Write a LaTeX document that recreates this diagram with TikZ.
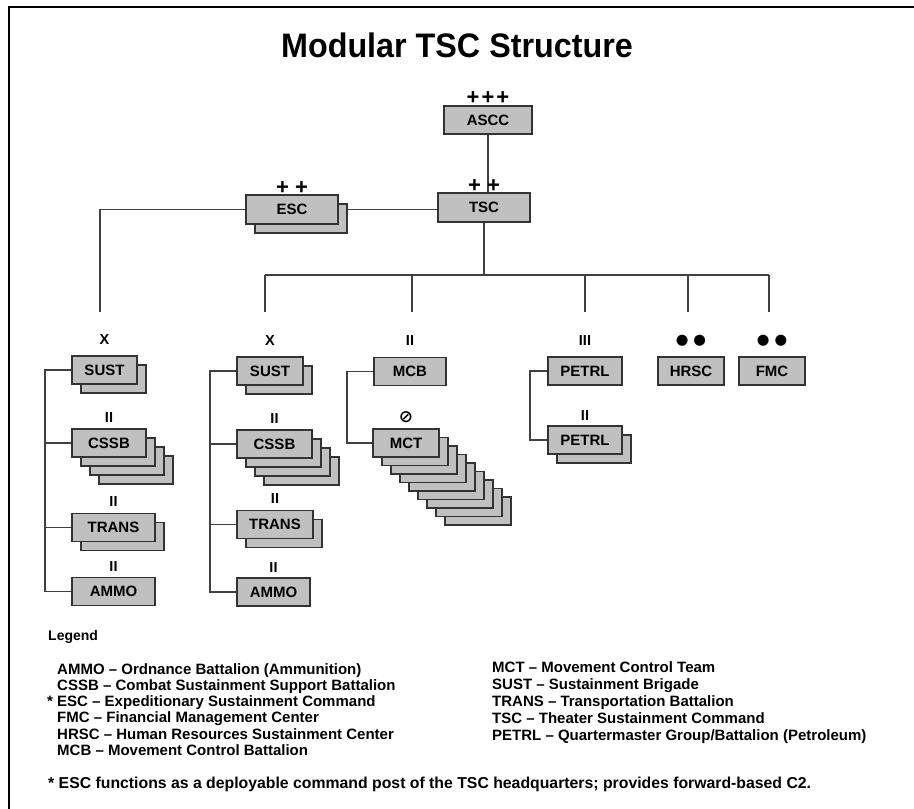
\documentclass[tikz,border=0pt]{standalone}
\usepackage{fontspec}
\setmainfont{Liberation Sans}
\newfontfamily\symfont{DejaVu Sans}
\usepackage{graphicx}
\usetikzlibrary{positioning,backgrounds}

\definecolor{boxgray}{RGB}{192,192,192}
\definecolor{linegray}{RGB}{64,64,64}

\tikzset{
  unit/.style={rectangle,draw=black!80,fill=boxgray,line width=1.6pt,
    minimum height=28pt,inner sep=0pt,font=\bfseries\fontsize{15}{15}\selectfont},
  echelon/.style={inner sep=0pt,font=\bfseries\fontsize{14.5}{14.5}\selectfont},
  pluses/.style={inner sep=0pt,font=\bfseries\fontsize{22}{22}\selectfont},
  link/.style={draw=linegray,line width=1.5pt},
  legend/.style={anchor=north west,align=left,inner sep=0pt,
    font=\bfseries\fontsize{15}{16.3}\selectfont}
}

\begin{document}
\begin{tikzpicture}[x=1pt,y=-1pt]
  \useasboundingbox (0,0) rectangle (914,809);
  \draw[line width=2.5pt] (9,809) -- (9,7) -- (914,7);

  \node[font=\bfseries\fontsize{34}{34}\selectfont] (title) at (457,45)
    {\scalebox{0.95}[1]{Modular TSC Structure}};

  % command level
  \node[unit,minimum width=88pt] (ascc) at (488,120) {ASCC};
  \node[pluses,above=1pt of ascc] (lvlascc) {+\kern2pt+\kern2pt+};
  \node[unit,minimum width=92pt,minimum height=29pt] (tsc) at (484,207.5) {TSC};
  \node[pluses,above=0pt of tsc] (lvltsc) {+ +};
  \node[unit,minimum width=92pt,minimum height=29pt] (escs) at (301,218.5) {};
  \node[unit,minimum width=92pt,minimum height=29pt] (esc) at (292,209.5) {ESC};
  \node[pluses,above=0pt of esc] (lvlesc) {+ +};

  \coordinate (bus) at (485,275);
  \coordinate (dropA) at (100,312);
  \coordinate (dropB) at (265,312);
  \coordinate (dropC) at (412,312);
  \coordinate (dropD) at (585,312);
  \coordinate (dropE) at (688,312);
  \coordinate (dropF) at (769,312);

  % first sustainment brigade
  \node[unit,minimum width=65pt] (sustAs) at (113.5,379) {};
  \node[unit,minimum width=65pt] (sustA) at (104.5,370) {SUST};
  \node[echelon,above=11pt of sustA] (lvlsustA) {X};
  \foreach \k in {3,2,1}
    \node[unit,minimum width=74pt] (cssbA\k) at (109+9*\k,443+9*\k) {};
  \node[unit,minimum width=74pt] (cssbA) at (109,443) {CSSB};
  \node[echelon,above=6pt of cssbA] (lvlcssbA) {II};
  \node[unit,minimum width=83pt] (transAs) at (122.5,536.5) {};
  \node[unit,minimum width=83pt] (transA) at (113.5,527.5) {TRANS};
  \node[echelon,above=6pt of transA] (lvltransA) {II};
  \node[unit,minimum width=83pt] (ammoA) at (113.5,591.5) {AMMO};
  \node[echelon,above=5pt of ammoA] (lvlammoA) {II};

  % second sustainment brigade
  \node[unit,minimum width=66pt] (sustBs) at (279,380) {};
  \node[unit,minimum width=66pt] (sustB) at (270,371) {SUST};
  \node[echelon,above=11pt of sustB] (lvlsustB) {X};
  \foreach \k in {3,2,1}
    \node[unit,minimum width=75pt] (cssbB\k) at (274.5+9*\k,444+9*\k) {};
  \node[unit,minimum width=75pt] (cssbB) at (274.5,444) {CSSB};
  \node[echelon,above=6pt of cssbB] (lvlcssbB) {II};
  \node[unit,minimum width=76pt] (transBs) at (284,533.5) {};
  \node[unit,minimum width=76pt] (transB) at (275,524.5) {TRANS};
  \node[echelon,above=6pt of transB] (lvltransB) {II};
  \node[unit,minimum width=73pt] (ammoB) at (273.5,592) {AMMO};
  \node[echelon,above=5pt of ammoB] (lvlammoB) {II};

  % movement control
  \node[unit,minimum width=72pt] (mcb) at (410,371.5) {MCB};
  \node[echelon,above=11pt of mcb] (lvlmcb) {II};
  \foreach \k in {8,7,...,1}
    \node[unit,minimum width=66pt] (mct\k) at (406+9*\k,443+8.5*\k) {};
  \node[unit,minimum width=66pt] (mct) at (406,443) {MCT};
  \node[echelon,above=5pt of mct,font=\symfont\bfseries\fontsize{17}{17}\selectfont] (lvlmct) {⊘};

  % petroleum
  \node[unit,minimum width=74pt] (petrlA) at (585,371) {PETRL};
  \node[echelon,above=11pt of petrlA] (lvlpetrlA) {III};
  \node[unit,minimum width=74pt] (petrlBs) at (594,449) {};
  \node[unit,minimum width=74pt] (petrlB) at (585,440) {PETRL};
  \node[echelon,above=5pt of petrlB] (lvlpetrlB) {II};

  % centers
  \node[unit,minimum width=66pt] (hrsc) at (691,371) {HRSC};
  \node[echelon,above=10pt of hrsc,font=\symfont\fontsize{14.5}{14.5}\selectfont] (lvlhrsc) {●\kern5pt●};
  \node[unit,minimum width=66pt] (fmc) at (772,371) {FMC};
  \node[echelon,above=10pt of fmc,font=\symfont\fontsize{14.5}{14.5}\selectfont] (lvlfmc) {●\kern5pt●};

  % connectors
  \begin{scope}[on background layer]
    \draw[link] (ascc.south) -- (ascc.south |- tsc.north);
    \draw[link] (esc.east) -- (esc.east -| tsc.west);
    \draw[link] (esc.west) -| (dropA);
    \draw[link] (tsc.south) -- (tsc.south |- bus);
    \draw[link] (dropB |- bus) -- (dropF |- bus);
    \foreach \d in {dropB,dropC,dropD,dropE,dropF}
      \draw[link] (\d |- bus) -- (\d);
    \draw[link] (sustA.west) -| (45,0 |- ammoA.west) -- (ammoA.west);
    \draw[link] (cssbA.west) -- (45,0 |- cssbA.west);
    \draw[link] (transA.west) -- (45,0 |- transA.west);
    \draw[link] (sustB.west) -| (210,0 |- ammoB.west) -- (ammoB.west);
    \draw[link] (cssbB.west) -- (210,0 |- cssbB.west);
    \draw[link] (transB.west) -- (210,0 |- transB.west);
    \draw[link] (mcb.west) -| (347,0 |- mct.west) -- (mct.west);
    \draw[link] (petrlA.west) -| (530,0 |- petrlB.west) -- (petrlB.west);
  \end{scope}

  % legend
  \node[anchor=base west,inner sep=0pt,font=\bfseries\fontsize{14}{14}\selectfont] (legtitle) at (48,640) {Legend};
  \node[legend] (legleft) at (57,663) {AMMO – Ordnance Battalion (Ammunition)\\
    CSSB – Combat Sustainment Support Battalion\\
    \llap{* }ESC – Expeditionary Sustainment Command\\
    FMC – Financial Management Center\\
    HRSC – Human Resources Sustainment Center\\
    MCB – Movement Control Battalion};
  \node[legend,font=\bfseries\fontsize{15}{17.2}\selectfont] (legright) at (492,661) {MCT – Movement Control Team\\
    SUST – Sustainment Brigade\\
    TRANS – Transportation Battalion\\
    TSC – Theater Sustainment Command\\
    PETRL – Quartermaster Group/Battalion (Petroleum)};
  \node[anchor=base west,inner sep=0pt,font=\bfseries\fontsize{15.8}{15.8}\selectfont] (note) at (48,788)
    {* ESC functions as a deployable command post of the TSC headquarters; provides forward-based C2.};
\end{tikzpicture}
\end{document}
